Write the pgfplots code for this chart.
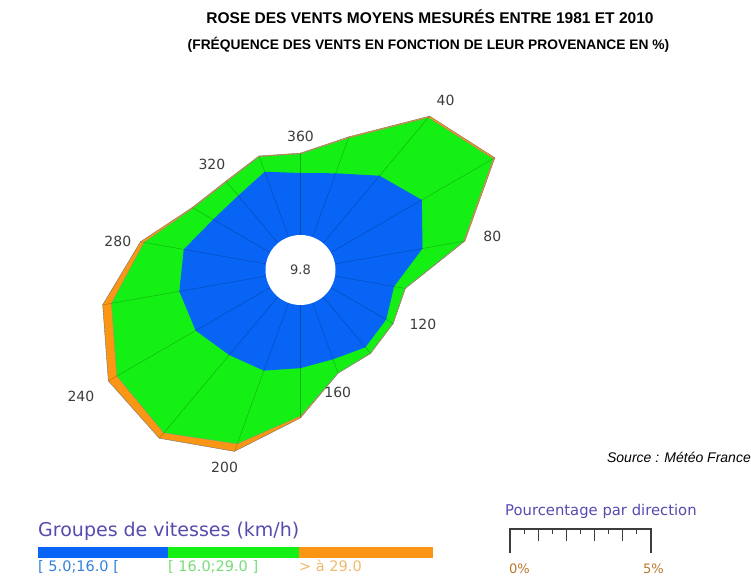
\documentclass[border=0pt]{standalone}
\usepackage{pgfplots}
\pgfplotsset{compat=1.18}
\usepackage{pgfplotstable}
\usepackage{fontspec}
\setmainfont{Liberation Sans}
\newfontfamily\dv{DejaVu Sans}
\definecolor{cblue}{RGB}{8,100,245}
\definecolor{cgreen}{RGB}{20,240,20}
\definecolor{corange}{RGB}{250,150,20}
\definecolor{lgpurple}{RGB}{85,75,175}
\definecolor{labgray}{RGB}{60,60,60}
\def\hole{1.2143}
% cumulative percentages per direction (blue, blue+green, total)
\pgfplotstableread{
dir blue green total
360 2.25 2.93 2.96
20 2.46 3.80 3.85
40 3.18 5.89 5.96
60 3.79 6.73 6.80
80 3.21 4.70 4.75
100 2.18 2.57 2.59
120 2.32 2.59 2.61
140 2.39 2.66 2.68
160 2.18 2.70 2.71
180 2.29 4.00 4.07
200 2.61 5.39 5.68
220 2.75 6.38 6.63
240 3.11 6.36 6.71
260 3.18 5.64 5.96
280 3.02 4.46 4.59
300 2.39 3.21 3.25
320 2.25 2.89 2.93
340 2.52 3.09 3.12
}\rose
\pgfplotstableread{
ang r lab
0 3.54 360
40.6 6.75 40
80 5.74 80
114 3.57 120
163 3.34 160
201 6.35 200
240 7.84 240
279 5.39 280
320 3.71 320
}\labs
\begin{document}
\begin{tikzpicture}
\useasboundingbox (0,0) rectangle (751pt,577pt);
\begin{axis}[at={(300.5pt,307pt)}, anchor=center, x=28pt, y=28pt,
  xmin=-8, xmax=8, ymin=-8, ymax=8, hide axis, clip=false]
\addplot[fill=corange, draw=black!55, line width=0.4pt] table[
  x expr={(\thisrow{total}+\hole)*sin(\thisrow{dir})},
  y expr={(\thisrow{total}+\hole)*cos(\thisrow{dir})}] {\rose} -- cycle;
\addplot[fill=cgreen, draw=black!45, line width=0.3pt] table[
  x expr={(\thisrow{green}+\hole)*sin(\thisrow{dir})},
  y expr={(\thisrow{green}+\hole)*cos(\thisrow{dir})}] {\rose} -- cycle;
\addplot[fill=cblue, draw=none] table[
  x expr={(\thisrow{blue}+\hole)*sin(\thisrow{dir})},
  y expr={(\thisrow{blue}+\hole)*cos(\thisrow{dir})}] {\rose} -- cycle;
\addplot[draw=black, draw opacity=0.28, line width=0.4pt,
  quiver={u={\thisrow{total}*sin(\thisrow{dir})}, v={\thisrow{total}*cos(\thisrow{dir})}}]
  table[x expr={\hole*sin(\thisrow{dir})}, y expr={\hole*cos(\thisrow{dir})}] {\rose};
\fill[white] (axis cs:0,0) circle[radius=35pt];
\node[font=\dv\fontsize{13pt}{15pt}\selectfont, text=labgray] at (axis cs:0,0) {9.8};
\addplot[only marks, mark=*, mark size=0pt, mark options={draw=none, fill=none},
  point meta=explicit symbolic, nodes near coords, nodes near coords align=center,
  every node near coord/.append style={font=\dv\fontsize{14pt}{16pt}\selectfont, text=labgray}]
  table[x expr={(\thisrow{r}+\hole)*sin(\thisrow{ang})},
        y expr={(\thisrow{r}+\hole)*cos(\thisrow{ang})}, meta=lab] {\labs};
\end{axis}
% titles
\node[anchor=base, font=\bfseries\fontsize{15.5pt}{18pt}\selectfont] at (430pt,553pt)
  {ROSE DES VENTS MOYENS MESURÉS ENTRE 1981 ET 2010};
\node[anchor=base, font=\bfseries\fontsize{13.8pt}{16pt}\selectfont] at (428.5pt,527pt)
  {(FRÉQUENCE DES VENTS EN FONCTION DE LEUR PROVENANCE EN \%)};
\node[anchor=base east, inner sep=0pt, font=\itshape\fontsize{14pt}{16pt}\selectfont] at (751pt,114pt)
  {Source : Météo France};
% speed legend
\node[anchor=base west, inner sep=0pt, text=lgpurple, font=\dv\fontsize{19pt}{22pt}\selectfont] at (38pt,40pt)
  {Groupes de vitesses (km/h)};
\fill[cblue] (38pt,19pt) rectangle (168pt,30pt);
\fill[cgreen] (168pt,19pt) rectangle (299pt,30pt);
\fill[corange] (299pt,19pt) rectangle (433pt,30pt);
\node[anchor=base west, inner sep=0pt, text={rgb,255:red,50;green,130;blue,220}, font=\dv\fontsize{14.5pt}{16pt}\selectfont] at (38pt,5pt) {[ 5.0;16.0 [};
\node[anchor=base west, inner sep=0pt, text={rgb,255:red,120;green,220;blue,120}, font=\dv\fontsize{14.5pt}{16pt}\selectfont] at (168pt,5pt) {[ 16.0;29.0 ]};
\node[anchor=base west, inner sep=0pt, text={rgb,255:red,240;green,185;blue,110}, font=\dv\fontsize{14.5pt}{16pt}\selectfont] at (299pt,5pt) {> à 29.0};
% percentage scale legend
\node[anchor=base west, inner sep=0pt, text=lgpurple, font=\dv\fontsize{14.8pt}{17pt}\selectfont] at (505pt,61pt)
  {Pourcentage par direction};
\draw[labgray, line width=1.3pt] (510pt,24pt) -- (510pt,48pt) -- (651pt,48pt) -- (651pt,24pt);
\foreach \k in {1,3,5,7,9} \draw[labgray, line width=1.1pt] ({510pt+14.1pt*\k},48pt) -- ++(0,-5pt);
\foreach \k in {2,4,6,8} \draw[labgray, line width=1.1pt] ({510pt+14.1pt*\k},48pt) -- ++(0,-12pt);
\node[anchor=base west, inner sep=0pt, text={rgb,255:red,185;green,120;blue,40}, font=\dv\fontsize{13pt}{15pt}\selectfont] at (509pt,3pt) {0\%};
\node[anchor=base west, inner sep=0pt, text={rgb,255:red,185;green,120;blue,40}, font=\dv\fontsize{13pt}{15pt}\selectfont] at (643pt,3pt) {5\%};
\end{tikzpicture}
\end{document}
